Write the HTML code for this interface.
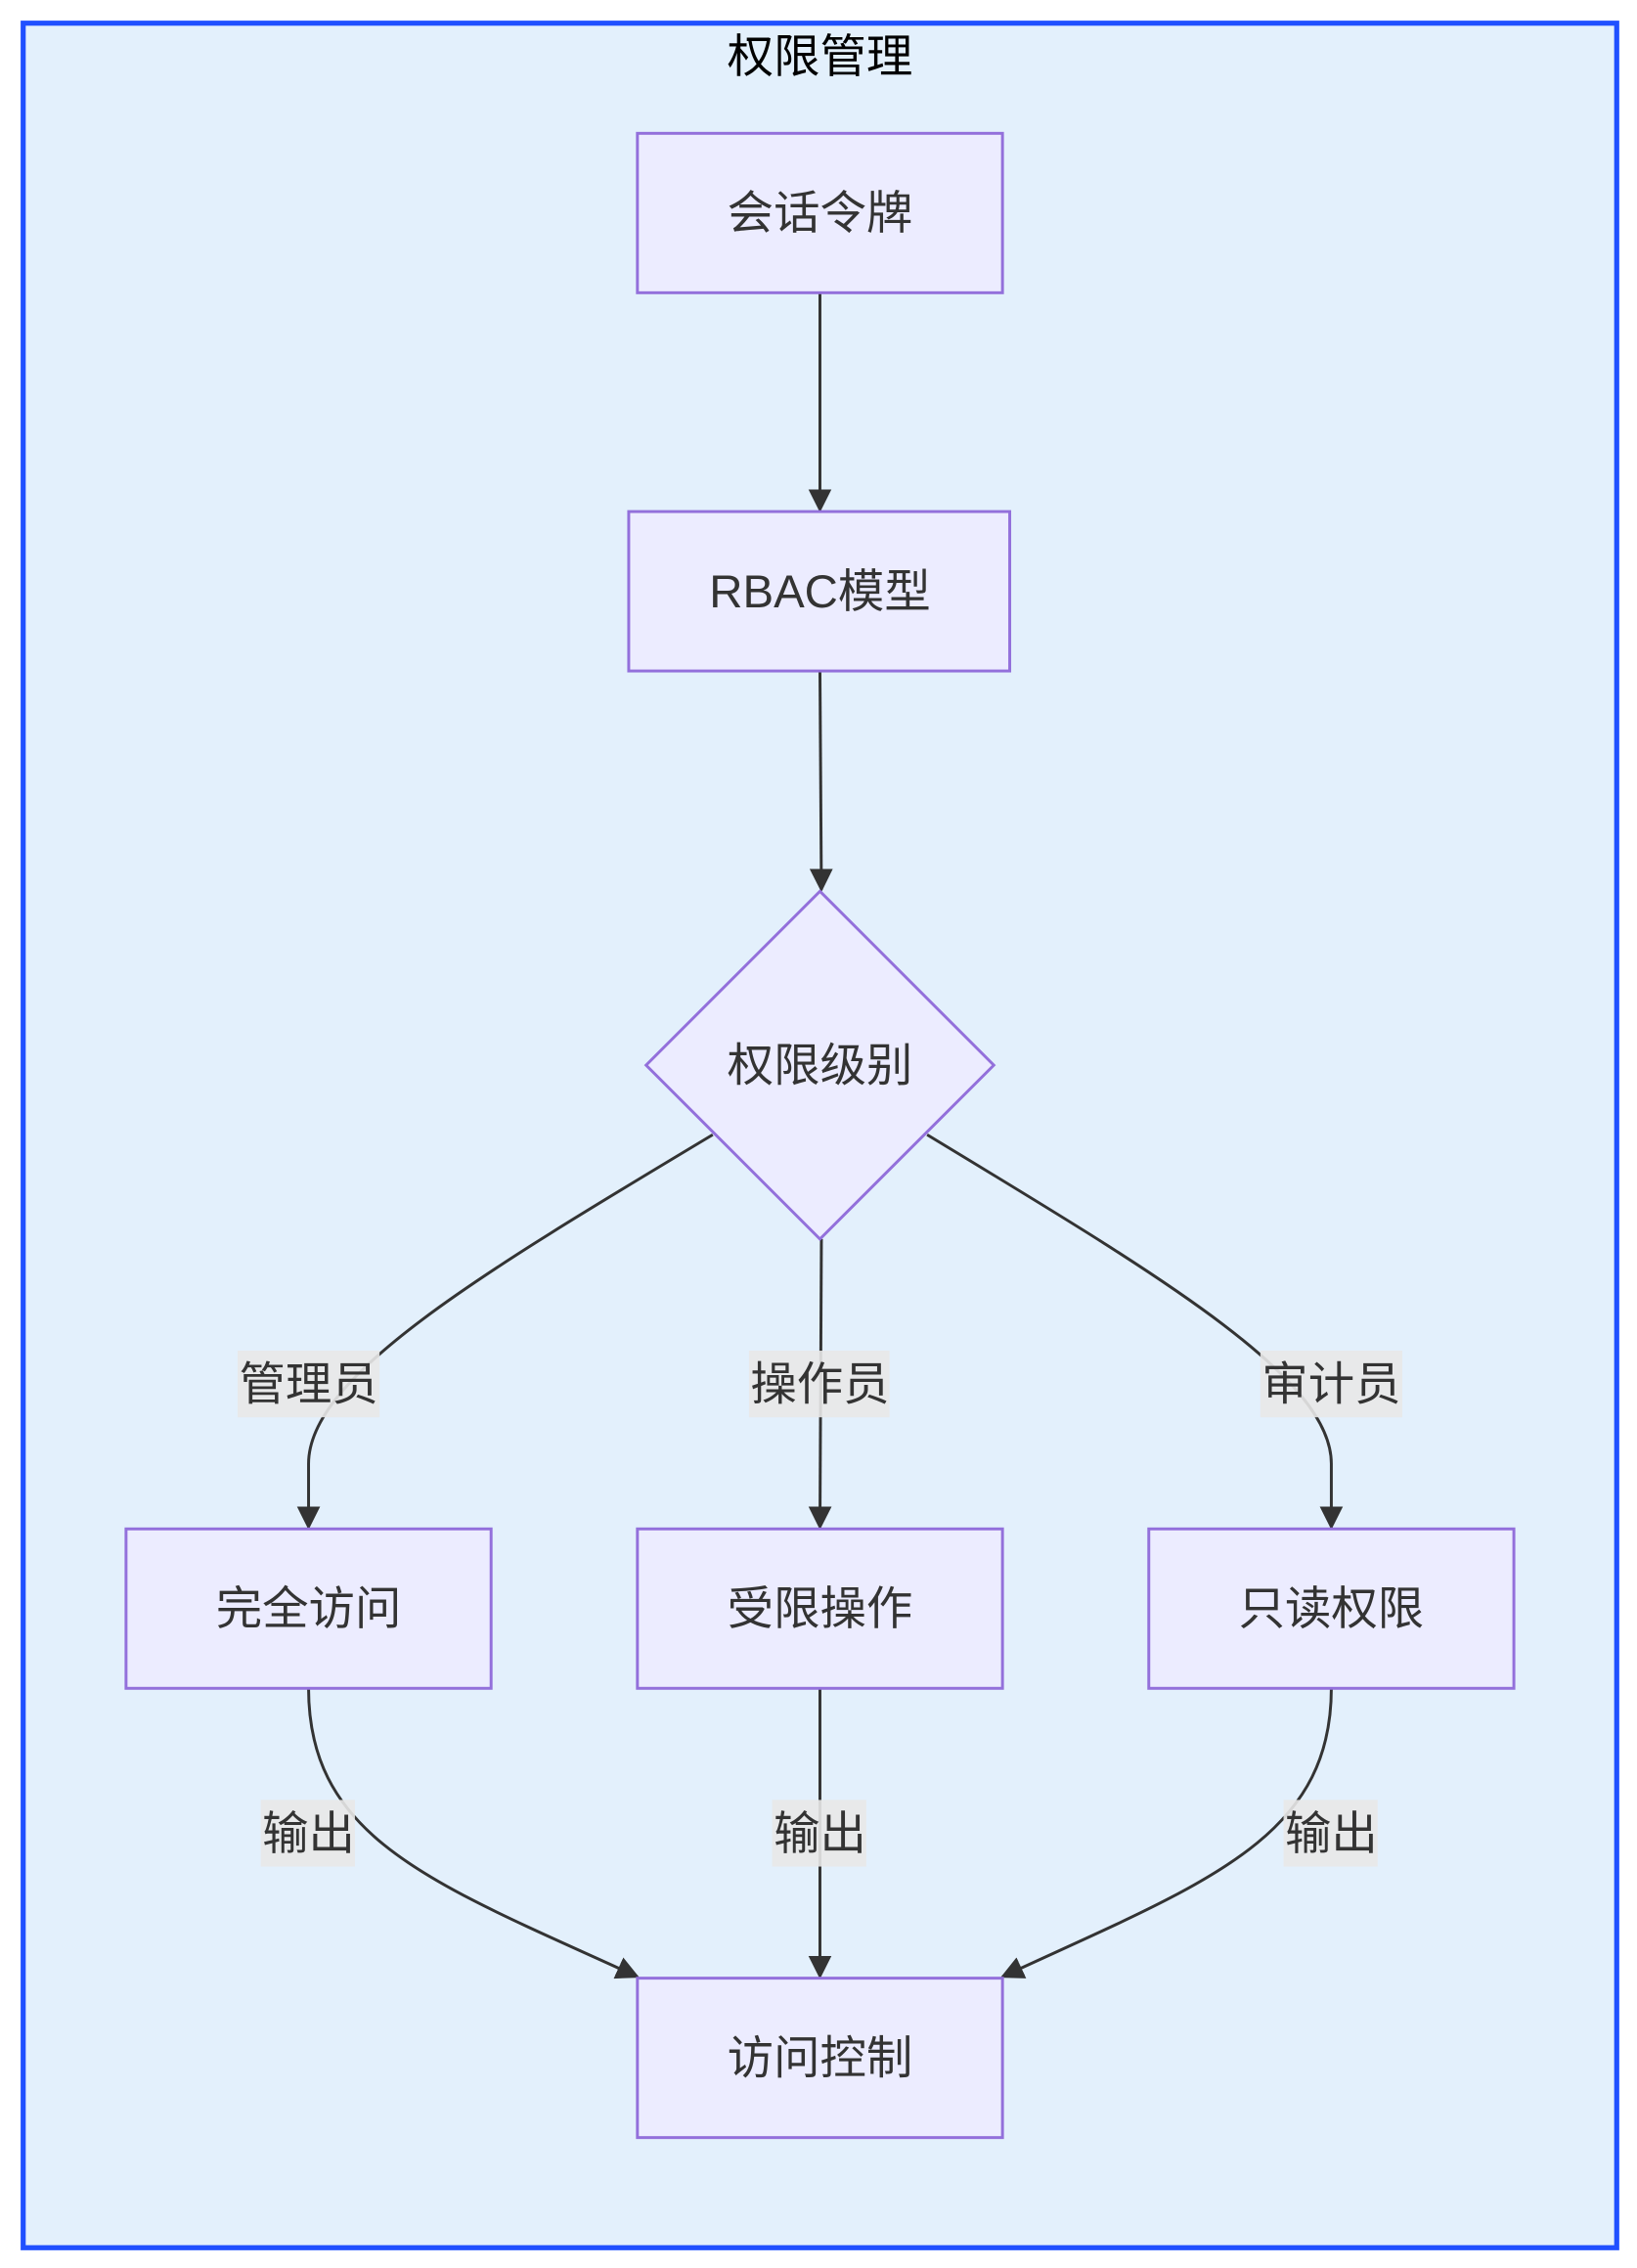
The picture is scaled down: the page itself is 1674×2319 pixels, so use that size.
<!DOCTYPE html>
<html><head><meta charset="utf-8"><style>
html,body{margin:0;padding:0;background:#fff;width:1674px;height:2319px;overflow:hidden}
svg{display:block}
text{font-family:"Liberation Sans","Noto Sans CJK SC",sans-serif;fill:#333}
</style></head><body>
<svg width="1674" height="2319" viewBox="0 0 1130 1565" preserveAspectRatio="none" xmlns="http://www.w3.org/2000/svg">
<defs><marker id="a" viewBox="0 0 10 10" refX="9" refY="5" markerWidth="8" markerHeight="8" orient="auto"><path d="M0,0L10,5L0,10z" fill="#333"/></marker></defs>
<rect x="16" y="16" width="1100" height="1535" fill="#e3f0fc" stroke="#2050ff" stroke-width="3.5"/>
<text x="566" y="50" font-size="32" text-anchor="middle" style="fill:#000">权限管理</text>
<g fill="none" stroke="#333" stroke-width="2">
<path d="M566,202L566,352" marker-end="url(#a)"/>
<path d="M566,463L567,614" marker-end="url(#a)"/>
<path d="M492,783C330,880 213,950 213,1010L213,1054" marker-end="url(#a)"/>
<path d="M640,783C800,880 919,950 919,1010L919,1054" marker-end="url(#a)"/>
<path d="M567,855L566,1054" marker-end="url(#a)"/>
<path d="M213,1165C213,1270 300,1300 440,1364" marker-end="url(#a)"/>
<path d="M566,1165L566,1364" marker-end="url(#a)"/>
<path d="M919,1165C919,1270 830,1300 692,1364" marker-end="url(#a)"/>
</g>
<g fill="#ececff" stroke="#9370db" stroke-width="2">
<rect x="440" y="92" width="252" height="110"/>
<rect x="434" y="353" width="263" height="110"/>
<path d="M566,615L686,735L566,855L446,735z"/>
<rect x="87" y="1055" width="252" height="110"/>
<rect x="440" y="1055" width="252" height="110"/>
<rect x="793" y="1055" width="252" height="110"/>
<rect x="440" y="1365" width="252" height="110"/>
</g>
<g fill="#e8e8e8" opacity="0.9">
<rect x="164" y="932" width="98" height="46"/>
<rect x="517" y="932" width="97" height="46"/>
<rect x="870" y="932" width="98" height="46"/>
<rect x="180" y="1242" width="65" height="46"/>
<rect x="533" y="1242" width="65" height="46"/>
<rect x="886" y="1242" width="65" height="46"/>
</g>
<g font-size="32" text-anchor="middle">
<text x="566" y="158">会话令牌</text>
<text x="566" y="419">RBAC模型</text>
<text x="566" y="746">权限级别</text>
<text x="213" y="1121">完全访问</text>
<text x="566" y="1121">受限操作</text>
<text x="919" y="1121">只读权限</text>
<text x="566" y="1431">访问控制</text>
<text x="213" y="966">管理员</text>
<text x="566" y="966">操作员</text>
<text x="919" y="966">审计员</text>
<text x="213" y="1276">输出</text>
<text x="566" y="1276">输出</text>
<text x="919" y="1276">输出</text>
</g>
</svg>
</body></html>
